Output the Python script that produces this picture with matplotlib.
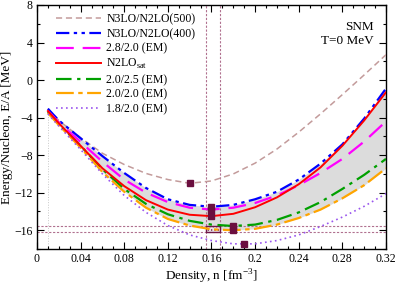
import matplotlib
matplotlib.use('Agg')
import matplotlib.pyplot as plt
import matplotlib.patches as mpatches
from matplotlib.ticker import MultipleLocator
import numpy as np

plt.rcParams['font.family'] = ['Liberation Serif', 'DejaVu Serif']
plt.rcParams['mathtext.fontset'] = 'custom'
plt.rcParams['mathtext.rm'] = 'Liberation Serif'
plt.rcParams['hatch.linewidth'] = 0.6

# density grid [fm^-3]
dens = [0.01, 0.02, 0.04, 0.06, 0.08, 0.10, 0.12, 0.14, 0.16,
        0.18, 0.20, 0.22, 0.24, 0.26, 0.28, 0.30, 0.32]

# energy per nucleon [MeV]
e_500 = [-3.05, -4.3, -6.15, -7.8, -9.0, -9.95, -10.6, -11.0, -10.75,
         -10.0, -8.85, -7.35, -5.55, -3.6, -1.55, 0.55, 2.7]
e_400 = [-3.05, -4.3, -6.2, -8.1, -9.9, -11.5, -12.7, -13.3, -13.5,
         -13.3, -12.7, -11.9, -10.6, -8.9, -6.85, -4.1, -0.9]
e_28_20 = [-3.3, -4.5, -6.6, -8.7, -10.6, -12.0, -13.0, -13.6, -13.8,
           -13.6, -13.1, -12.3, -11.2, -9.9, -8.4, -6.55, -4.4]
e_sat = [-3.3, -4.6, -7.0, -9.4, -11.3, -12.8, -13.8, -14.35, -14.5,
         -14.25, -13.55, -12.5, -11.1, -9.3, -7.0, -4.3, -1.3]
e_20_25 = [-3.4, -4.7, -7.0, -9.5, -11.6, -13.2, -14.3, -15.0, -15.4,
           -15.55, -15.4, -14.9, -14.1, -13.0, -11.6, -10.1, -8.4]
e_20_20 = [-3.5, -4.8, -7.2, -9.8, -11.9, -13.6, -14.8, -15.5, -15.9,
           -16.0, -15.85, -15.4, -14.7, -13.8, -12.6, -11.2, -9.4]
e_18_20 = [-3.6, -4.9, -7.4, -10.0, -12.3, -14.1, -15.5, -16.5, -17.1,
           -17.45, -17.45, -17.1, -16.5, -15.6, -14.6, -13.45, -12.1]

# saturation points
sat_n = [0.14, 0.16, 0.16, 0.16, 0.18, 0.18, 0.19]
sat_e = [-11.0, -13.5, -13.8, -14.5, -15.55, -16.0, -17.5]

# empirical saturation region
emp_n = [0.155, 0.168]
emp_e = [-16.2, -15.5]

fig = plt.figure(figsize=(3.99, 2.85), dpi=100)
ax = fig.add_axes([0.0927, 0.1263, 0.8747, 0.8562])

ax.fill_between(dens, e_20_20, e_400, color='#dcdcdc', lw=0, zorder=1)

emp_col = '#b0708f'
for xv in emp_n:
    ax.axvline(xv, color=emp_col, lw=0.8, dashes=(2, 1.5), zorder=2)
for yv in emp_e:
    ax.axhline(yv, color=emp_col, lw=0.8, dashes=(2, 1.5), zorder=2)
box = mpatches.Rectangle((emp_n[0], emp_e[0]), emp_n[1] - emp_n[0], emp_e[1] - emp_e[0],
                         facecolor='#ece4ea', edgecolor='#6e1746', lw=1.0,
                         hatch='.....', zorder=3)
ax.add_patch(box)
ax.plot([0.01, 0.01], [-18, -3.3], color='#c8c8c8', lw=0.7, ls=':', zorder=1)

ax.plot(dens, e_500, color='#c39b9b', lw=1.1, dashes=(4, 2.5), label='N3LO/N2LO(500)', zorder=4)
ax.plot(dens, e_400, color='#0000ff', lw=1.6, dashes=(6, 2, 1.5, 2, 1.5, 2), label='N3LO/N2LO(400)', zorder=4)
ax.plot(dens, e_28_20, color='#ff00ff', lw=1.6, dashes=(8, 4), label='2.8/2.0 (EM)', zorder=4)
ax.plot(dens, e_sat, color='#ff0000', lw=1.4, label=r'N2LO$_{\rm sat}$', zorder=5)
ax.plot(dens, e_20_25, color='#00a000', lw=1.6, dashes=(7, 2.5, 1.5, 2.5), label='2.0/2.5 (EM)', zorder=4)
ax.plot(dens, e_20_20, color='#ffa500', lw=1.6, dashes=(8, 2, 2, 2), label='2.0/2.0 (EM)', zorder=4)
ax.plot(dens, e_18_20, color='#9955ee', lw=1.2, dashes=(1, 2), label='1.8/2.0 (EM)', zorder=4)

ax.plot(sat_n, sat_e, 's', color='#6b0f3f', ms=4.5, ls='none', zorder=6)

ax.set_xlim(0, 0.32)
ax.set_ylim(-18, 8)
ax.xaxis.set_minor_locator(MultipleLocator(0.01))
ax.yaxis.set_major_locator(MultipleLocator(4))
ax.yaxis.set_minor_locator(MultipleLocator(2))
xt = np.arange(0, 0.321, 0.04)
ax.set_xticks(xt)
ax.set_xticklabels(['0'] + ['%.2g' % v for v in xt[1:]])
ax.tick_params(which='both', direction='in', top=True, right=True, labelsize=8.5, pad=3)
ax.tick_params(which='major', length=5, width=0.8)
ax.tick_params(which='minor', length=2.5, width=0.8)
for s in ax.spines.values():
    s.set_linewidth(1.0)

ax.set_xlabel(r'Density, n [fm$^{-3}$]', fontsize=9.5, labelpad=2)
ax.set_ylabel('Energy/Nucleon, E/A [MeV]', fontsize=9.5, labelpad=1)

ax.text(0.965, 0.935, 'SNM\nT=0 MeV', transform=ax.transAxes, ha='right', va='top',
        fontsize=9.5, linespacing=1.2)

ax.legend(loc='upper left', bbox_to_anchor=(0.055, 0.965), frameon=False, fontsize=8.5,
          handlelength=3.8, handletextpad=0.45, labelspacing=0.22, borderpad=0, borderaxespad=0)

fig.savefig('out.png', dpi=100)
